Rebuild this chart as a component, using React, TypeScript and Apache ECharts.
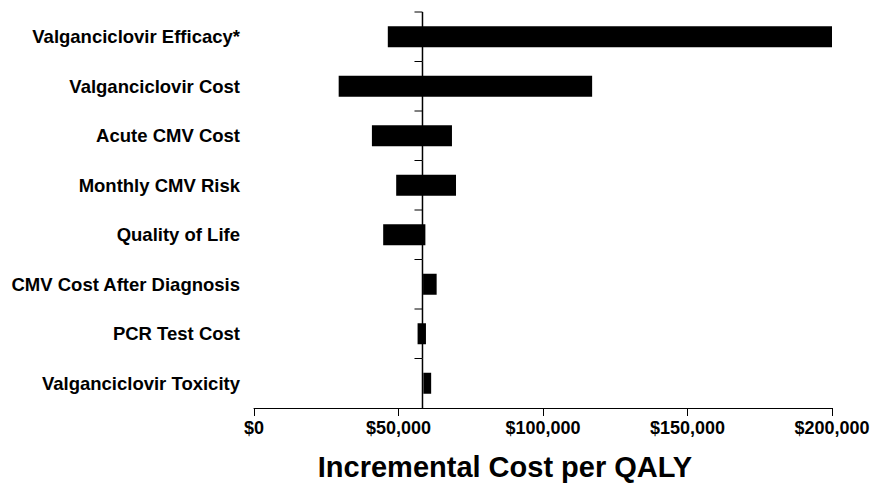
import React, { useEffect, useRef } from "react";
import * as echarts from "echarts";

const categories = [
  "Valganciclovir Efficacy*",
  "Valganciclovir Cost",
  "Acute CMV Cost",
  "Monthly CMV Risk",
  "Quality of Life",
  "CMV Cost After Diagnosis",
  "PCR Test Cost",
  "Valganciclovir Toxicity",
];
const lowValues = [46300, 29300, 40800, 49200, 44700, 58500, 56600, 58600];
const highValues = [200000, 117000, 68500, 69900, 59300, 63200, 59500, 61300];
const baseCase = 58300;
const xTickMin = 0;
const xTickMax = 200000;
const xTickStep = 50000;
const xTitle = "Incremental Cost per QALY";

const FONT = '"Liberation Sans", Arial, Helvetica, sans-serif';

export default function App() {
  const ref = useRef<HTMLDivElement>(null);
  useEffect(() => {
    document.body.style.margin = "0";
    if (!ref.current) return;
    const chart = echarts.init(ref.current, undefined, { renderer: "svg" });
    const spans = highValues.map((h, i) => h - lowValues[i]);
    chart.setOption({
      animation: false,
      backgroundColor: "#fff",
      grid: { left: 254, right: 41, top: 12, bottom: 92, containLabel: false },
      xAxis: {
        type: "value",
        min: xTickMin,
        max: xTickMax,
        interval: xTickStep,
        axisLine: { show: true, lineStyle: { color: "#000", width: 1 } },
        axisTick: { show: true, length: 8, lineStyle: { color: "#000" } },
        splitLine: { show: false },
        axisLabel: {
          color: "#000",
          fontFamily: FONT,
          fontWeight: "bold",
          fontSize: 18,
          margin: 11,
          formatter: (v: number) => "$" + v.toLocaleString("en-US"),
        },
      },
      yAxis: {
        type: "category",
        data: categories,
        inverse: true,
        axisLine: { show: false },
        axisTick: { show: false },
        splitLine: { show: false },
        axisLabel: {
          color: "#000",
          fontFamily: FONT,
          fontWeight: "bold",
          fontSize: 18.5,
          margin: 14,
        },
      },
      graphic: [
        {
          type: "text",
          x: 505,
          y: 467,
          style: {
            text: xTitle,
            fill: "#000",
            font: `bold 29px ${FONT}`,
            textAlign: "center",
            textVerticalAlign: "middle",
          },
        },
      ],
      series: [
        {
          type: "bar",
          stack: "t",
          data: lowValues,
          barWidth: 21,
          itemStyle: { color: "transparent" },
          silent: true,
        },
        {
          type: "bar",
          stack: "t",
          data: spans,
          barWidth: 21,
          itemStyle: { color: "#000" },
        },
        {
          type: "custom",
          data: categories.map((_, i) => [baseCase, i]),
          encode: { x: 0, y: 1 },
          z: 5,
          renderItem: (params: any, api: any) => {
            const p = api.coord([api.value(0), api.value(1)]);
            const h = api.size([0, 1])[1];
            return {
              type: "group",
              children: [
                {
                  type: "line",
                  shape: { x1: p[0], y1: p[1] - h / 2, x2: p[0], y2: p[1] + h / 2 },
                  style: { stroke: "#000", lineWidth: 1.5 },
                },
                {
                  type: "line",
                  shape: { x1: p[0] - 8, y1: p[1] - h / 2, x2: p[0], y2: p[1] - h / 2 },
                  style: { stroke: "#000", lineWidth: 1 },
                },
              ],
            };
          },
        },
      ],
    });
    return () => chart.dispose();
  }, []);
  return <div ref={ref} style={{ width: 873, height: 500 }} />;
}
